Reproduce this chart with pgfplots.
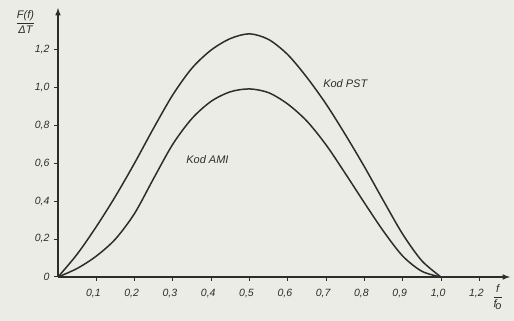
\documentclass[border=0pt]{standalone}
\usepackage{fontspec}
\setmainfont{Liberation Sans}
\usepackage{pgfplots}
\pgfplotsset{compat=1.18}
\definecolor{paper}{RGB}{236,236,231}
\definecolor{ink}{RGB}{45,45,45}
\begin{document}
\begin{tikzpicture}
\useasboundingbox (0,0) rectangle (514pt,321pt);
\fill[paper] (0,0) rectangle (514pt,321pt);
\begin{axis}[
  at={(58pt,44pt)}, anchor=south west,
  scale only axis, width=452pt, height=269pt,
  xmin=0, xmax=1.18, ymin=0, ymax=1.416,
  axis lines=left,
  axis line style={ink, line width=1.5pt, -latex},
  clip=false,
  xtick={0.1,0.2,0.3,0.4,0.5,0.6,0.7,0.8,0.9,1.0,1.1},
  xticklabels={{0,1},{0,2},{0,3},{0,4},{0,5},{0,6},{0,7},{0,8},{0,9},{1,0},{1,2}},
  ytick={0,0.2,0.4,0.6,0.8,1.0,1.2},
  yticklabels={0,{0,2},{0,4},{0,6},{0,8},{1,0},{1,2}},
  tick style={ink, line width=1pt},
  major tick length=4pt,
  tick align=outside,
  ticklabel style={font=\itshape\fontsize{10.5}{11}\selectfont, text=ink},
  x tick label style={yshift=-5pt, xshift=-3pt},
  y tick label style={xshift=-1pt},
  /pgf/number format/assume math mode=true,
]
\addplot[ink, line width=1.5pt, smooth] coordinates {
 (0,0) (0.05,0.12) (0.1,0.265) (0.15,0.425) (0.2,0.60) (0.25,0.785) (0.3,0.96)
 (0.35,1.10) (0.4,1.195) (0.45,1.255) (0.5,1.28) (0.55,1.25) (0.6,1.17)
 (0.65,1.05) (0.7,0.91) (0.75,0.75) (0.8,0.58) (0.85,0.40) (0.9,0.225)
 (0.95,0.085) (1.0,0)
};
\addplot[ink, line width=1.5pt, smooth] coordinates {
 (0,0) (0.05,0.045) (0.1,0.11) (0.15,0.20) (0.2,0.335) (0.25,0.52) (0.3,0.70)
 (0.35,0.835) (0.4,0.925) (0.45,0.975) (0.5,0.99) (0.55,0.97) (0.6,0.91)
 (0.65,0.82) (0.7,0.695) (0.75,0.545) (0.8,0.39) (0.85,0.24) (0.9,0.11)
 (0.95,0.03) (1.0,0)
};
\node[text=ink, font=\itshape\fontsize{11}{12}\selectfont] at (axis cs:0.75,1.016) {Kod PST};
\node[text=ink, font=\itshape\fontsize{11}{12}\selectfont] at (axis cs:0.39,0.616) {Kod AMI};
\node[text=ink, font=\itshape\fontsize{11}{12}\selectfont, inner sep=0pt] at (axis cs:-0.085,1.34)
  {$\displaystyle\frac{\textit{F(f)}}{\textit{ΔT}}$};
\node[text=ink, font=\itshape\fontsize{11}{12}\selectfont, inner sep=0pt] at (axis cs:1.148,-0.105)
  {$\displaystyle\frac{\textit{f}}{\textit{f}_{\!\textit{o}}}$};
\end{axis}
\end{tikzpicture}
\end{document}
